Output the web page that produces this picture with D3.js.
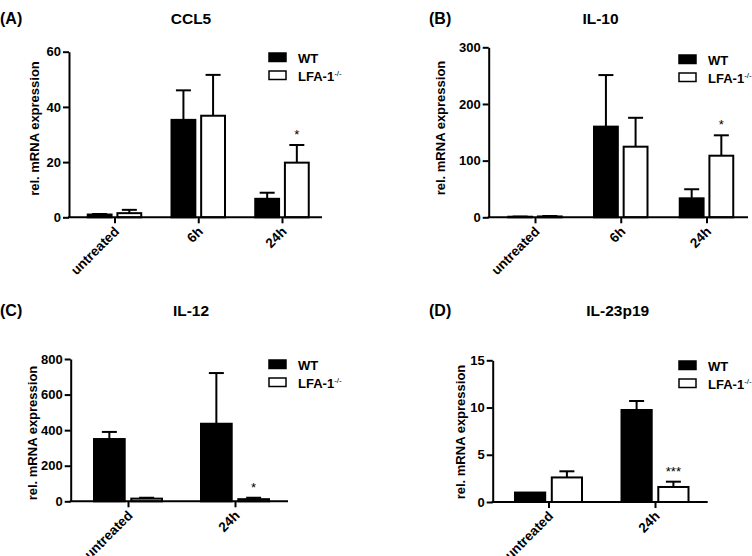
<!DOCTYPE html>
<html>
<head>
<meta charset="utf-8">
<script src="https://cdn.jsdelivr.net/npm/d3@7/dist/d3.min.js"></script>
<style>
  html, body { margin: 0; padding: 0; background: #fff; }
  svg { display: block; font-family: "Liberation Sans", Arial, sans-serif; font-weight: bold; }
</style>
</head>
<body>
<svg id="chart" width="752" height="556"></svg>
<script>
// ---------- DATA ----------
const seriesNames = ["WT", "LFA-1"];
const seriesSup = ["", "-/-"];

const ccl5Categories = ["untreated", "6h", "24h"];
const ccl5WT = [1.0, 35.3, 6.7];
const ccl5WTErr = [0.2, 10.7, 2.2];
const ccl5KO = [1.5, 36.8, 19.8];
const ccl5KOErr = [1.2, 14.8, 6.4];
const ccl5Sig = ["", "", "*"];
const ccl5Ticks = [0, 20, 40, 60];

const il10Categories = ["untreated", "6h", "24h"];
const il10WT = [1.0, 160, 33.5];
const il10WTErr = [0.3, 91, 16];
const il10KO = [1.5, 124.6, 108.7];
const il10KOErr = [0.8, 51, 36];
const il10Sig = ["", "", "*"];
const il10Ticks = [0, 100, 200, 300];

const il12Categories = ["untreated", "24h"];
const il12WT = [350, 436];
const il12WTErr = [40, 285];
const il12KO = [15, 12];
const il12KOErr = [5, 8];
const il12Sig = ["", "*"];
const il12Ticks = [0, 200, 400, 600, 800];

const il23Categories = ["untreated", "24h"];
const il23WT = [1.0, 9.74];
const il23WTErr = [0, 0.95];
const il23KO = [2.6, 1.59];
const il23KOErr = [0.65, 0.56];
const il23Sig = ["", "***"];
const il23Ticks = [0, 5, 10, 15];

const yLabel = "rel. mRNA expression";

// ---------- LAYOUT ----------
const panels = [
  { tag: "(A)", title: "CCL5", cats: ccl5Categories, wt: ccl5WT, wtErr: ccl5WTErr, ko: ccl5KO, koErr: ccl5KOErr, sig: ccl5Sig, ticks: ccl5Ticks,
    x0: 69, x1: 322, yTop: 51.7, yBot: 217.3, c0: 114.5, c1: 282, barW: 21.5, gap: 10.5,
    tagX: 0, titleX: 191, headY: 24, ylabX: 39, ylabY: 128.5, legX: 269, legY: 53 },
  { tag: "(B)", title: "IL-10", cats: il10Categories, wt: il10WT, wtErr: il10WTErr, ko: il10KO, koErr: il10KOErr, sig: il10Sig, ticks: il10Ticks,
    x0: 488.7, x1: 748, yTop: 47.3, yBot: 217.3, c0: 535, c1: 706.5, barW: 21.5, gap: 10.5,
    tagX: 429, titleX: 600.5, headY: 24, ylabX: 445, ylabY: 128, legX: 679, legY: 55 },
  { tag: "(C)", title: "IL-12", cats: il12Categories, wt: il12WT, wtErr: il12WTErr, ko: il12KO, koErr: il12KOErr, sig: il12Sig, ticks: il12Ticks,
    x0: 70.7, x1: 288, yTop: 359, yBot: 501.3, c0: 128, c1: 235, barW: 28, gap: 12,
    tagX: 0, titleX: 191, headY: 316, ylabX: 37, ylabY: 433, legX: 269, legY: 360 },
  { tag: "(D)", title: "IL-23p19", cats: il23Categories, wt: il23WT, wtErr: il23WTErr, ko: il23KO, koErr: il23KOErr, sig: il23Sig, ticks: il23Ticks,
    x0: 492.7, x1: 707.7, yTop: 360.3, yBot: 502, c0: 548.5, c1: 655, barW: 27.5, gap: 12,
    tagX: 429, titleX: 617.7, headY: 316, ylabX: 465, ylabY: 432, legX: 679, legY: 361 }
];

const svg = d3.select("#chart");
const STROKE = 2;

panels.forEach(p => {
  const g = svg.append("g");
  const y = d3.scaleLinear().domain([0, d3.max(p.ticks)]).range([p.yBot, p.yTop]);
  const x = d3.scalePoint().domain(p.cats).range([p.c0, p.c1]);
  const half = p.barW + p.gap / 2;
  const sub = d3.scaleBand().domain(seriesNames).range([-half, half]).paddingInner(p.gap / (2 * p.barW + p.gap));

  // header
  g.append("text").attr("x", p.tagX).attr("y", p.headY).attr("font-size", 16).text(p.tag);
  g.append("text").attr("x", p.titleX).attr("y", p.headY).attr("font-size", 15.5).attr("text-anchor", "middle").text(p.title);

  const rows = [];
  p.cats.forEach((c, i) => {
    rows.push({ cat: c, s: seriesNames[0], v: p.wt[i], e: p.wtErr[i], sig: "" });
    rows.push({ cat: c, s: seriesNames[1], v: p.ko[i], e: p.koErr[i], sig: p.sig[i] });
  });

  // error bars
  const capW = 15;
  rows.forEach(r => {
    const cx = x(r.cat) + sub(r.s) + sub.bandwidth() / 2;
    if (r.e > 0) {
      g.append("line").attr("x1", cx).attr("x2", cx).attr("y1", y(r.v)).attr("y2", y(r.v + r.e))
        .attr("stroke", "#000").attr("stroke-width", STROKE);
      g.append("line").attr("x1", cx - capW / 2).attr("x2", cx + capW / 2).attr("y1", y(r.v + r.e)).attr("y2", y(r.v + r.e))
        .attr("stroke", "#000").attr("stroke-width", STROKE);
    }
    if (r.sig) {
      g.append("text").attr("x", cx).attr("y", y(r.v + r.e) - 6).attr("text-anchor", "middle")
        .attr("font-size", 13).attr("font-weight", "normal").text(r.sig);
    }
  });

  // bars
  g.selectAll("rect.bar").data(rows).join("rect")
    .attr("class", "bar")
    .attr("x", d => x(d.cat) + sub(d.s))
    .attr("width", sub.bandwidth())
    .attr("y", d => y(d.v))
    .attr("height", d => y(0) - y(d.v))
    .attr("fill", d => d.s === seriesNames[0] ? "#000" : "#fff")
    .attr("stroke", "#000")
    .attr("stroke-width", STROKE);

  // y axis
  const ya = g.append("g").attr("transform", `translate(${p.x0},0)`)
    .call(d3.axisLeft(y).tickValues(p.ticks).tickSize(6).tickSizeOuter(0).tickPadding(2).tickFormat(d3.format("d")));
  ya.selectAll("path, line").attr("stroke", "#000").attr("stroke-width", STROKE);
  ya.selectAll("text").attr("font-size", 13).attr("font-family", null).attr("fill", "#000");

  // x axis line + ticks
  g.append("line").attr("x1", p.x0 - 1).attr("x2", p.x1).attr("y1", p.yBot).attr("y2", p.yBot)
    .attr("stroke", "#000").attr("stroke-width", STROKE);
  const xa = g.append("g").attr("transform", `translate(0,${p.yBot})`)
    .call(d3.axisBottom(x).tickSize(6).tickSizeOuter(0));
  xa.select(".domain").remove();
  xa.selectAll("line").attr("stroke", "#000").attr("stroke-width", STROKE);
  xa.selectAll("text")
    .attr("font-size", 13.5).attr("font-family", null).attr("fill", "#000")
    .attr("text-anchor", "end")
    .attr("dy", "0")
    .attr("y", 0)
    .attr("transform", "translate(5,15) rotate(-45)");

  // y label
  g.append("text").attr("transform", `translate(${p.ylabX},${p.ylabY}) rotate(-90)`)
    .attr("text-anchor", "middle").attr("font-size", 13).text(yLabel);

  // legend
  seriesNames.forEach((s, i) => {
    const ly = p.legY + i * 18;
    g.append("rect").attr("x", p.legX).attr("y", ly).attr("width", 17).attr("height", 8.5)
      .attr("fill", i === 0 ? "#000" : "#fff").attr("stroke", "#000").attr("stroke-width", 1.5);
    const t = g.append("text").attr("x", p.legX + 29).attr("y", ly + 9.5).attr("font-size", 13).text(s);
    if (seriesSup[i]) {
      t.append("tspan").attr("font-size", 8).attr("font-weight", "normal").attr("dy", -5).text(seriesSup[i]);
    }
  });
});
</script>
</body>
</html>
